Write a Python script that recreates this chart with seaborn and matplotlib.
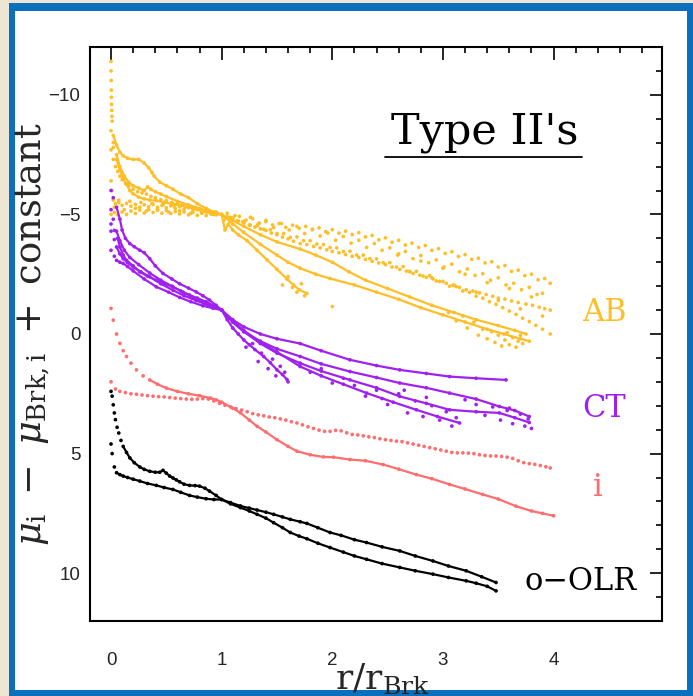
import matplotlib
matplotlib.use("Agg")
import matplotlib.pyplot as plt
import pandas as pd
import seaborn as sns
from matplotlib.patches import Rectangle
from matplotlib.lines import Line2D
from matplotlib.ticker import MultipleLocator, FixedLocator

# ---------------- data ----------------
groups = ["AB", "CT", "i", "o-OLR"]
xticks = [0, 1, 2, 3, 4]
xtick_labels = ["0", "1", "2", "3", "4"]
yticks = [-10, -5, 0, 5, 10]
ytick_labels = ["\u221210", "\u22125", "0", "5", "10"]

# AB (orange) dense profiles
ab1_x = [0.0, 0.0, 0.002, 0.003, 0.004, 0.005, 0.006, 0.008, 0.01, 0.02, 0.05, 0.08, 0.11, 0.15, 0.2, 0.25,
         0.3, 0.34, 0.37, 0.39, 0.44, 0.5, 0.56, 0.63, 0.7, 0.78, 0.86, 0.93, 1.0, 1.1, 1.2, 1.35, 1.5,
         1.71, 1.85, 2.0, 2.15, 2.3, 2.5, 2.7, 2.9, 3.1, 3.3, 3.5, 3.65, 3.75]
ab1_y = [-11.4, -11.0, -10.6, -10.2, -9.9, -9.6, -9.35, -9.1, -8.9, -8.3, -7.9, -7.6, -7.45, -7.35, -7.3, -7.3,
         -7.15, -6.95, -6.75, -6.6, -6.35, -6.2, -6.05, -5.85, -5.7, -5.45, -5.25, -5.1, -5.0, -4.75, -4.5, -4.15, -3.85,
         -3.55, -3.3, -3.0, -2.6, -2.25, -1.9, -1.55, -1.2, -0.9, -0.6, -0.35, -0.15, 0.0]
ab2_x = [0.0, 0.02, 0.05, 0.08, 0.12, 0.16, 0.2, 0.25, 0.3, 0.33, 0.36, 0.4, 0.45, 0.5, 0.6, 0.7, 0.8, 0.9,
         1.0, 1.03, 1.06, 1.1, 1.15, 1.23, 1.32, 1.41, 1.5, 1.59, 1.65, 1.7, 1.77]
ab2_y = [-8.5, -8.0, -7.5, -7.0, -6.6, -6.35, -6.2, -6.1, -6.0, -6.15, -6.05, -5.95, -5.85, -5.75, -5.55, -5.4, -5.25, -5.1,
         -5.0, -4.35, -4.6, -4.35, -4.15, -3.9, -3.5, -3.1, -2.7, -2.3, -2.05, -1.85, -1.7]
ab3_x = [0.02, 0.05, 0.08, 0.11, 0.14, 0.17, 0.2, 0.25, 0.3, 0.35, 0.41, 0.48, 0.56, 0.63, 0.71, 0.78, 0.86, 0.93,
         1.0, 1.1, 1.2, 1.35, 1.5, 1.6, 1.71, 1.85, 1.98, 2.2, 2.4, 2.6, 2.8, 3.0, 3.2, 3.4, 3.55, 3.7, 3.78]
ab3_y = [-7.8, -7.3, -6.85, -6.5, -6.25, -6.0, -5.86, -5.72, -5.65, -5.6, -5.58, -5.5, -5.44, -5.37, -5.3, -5.2, -5.1, -5.0,
         -5.0, -4.6, -4.25, -3.75, -3.3, -3.0, -2.75, -2.5, -2.32, -2.05, -1.75, -1.45, -1.1, -0.8, -0.5, -0.2, 0.0, 0.2, 0.3]
# AB sparse (dotted) profiles
abd1_x = [0.0, 0.02, 0.04, 0.06, 0.08, 0.1, 0.13, 0.16, 0.2, 0.24, 0.28, 0.32, 0.36, 0.4, 0.45, 0.5, 0.55, 0.6, 0.65,
          0.7, 0.75, 0.8, 0.85, 0.9, 0.95, 1.05, 1.1, 1.15, 1.2, 1.25, 1.3, 1.35, 1.4, 1.45, 1.5, 1.55, 1.6, 1.65, 1.71,
          1.77, 1.83, 1.89, 1.95, 2.0, 2.06, 2.12, 2.18, 2.24, 2.3, 2.36, 2.42, 2.48, 2.54, 2.61, 2.67, 2.73, 2.79,
          2.85, 2.91, 2.97, 3.03, 3.09, 3.15, 3.21, 3.27, 3.33, 3.39, 3.45, 3.5, 3.56, 3.62, 3.68, 3.75, 3.81, 3.87,
          3.92, 3.97]
abd1_y = [-7.7, -7.3, -7.0, -6.8, -6.6, -6.45, -6.3, -6.2, -6.05, -5.95, -5.9, -5.85, -5.75, -5.7, -5.62, -5.58, -5.5,
          -5.45, -5.4, -5.3, -5.25, -5.2, -5.15, -5.1, -5.05, -4.9, -4.82, -4.72, -4.64, -4.56, -4.47, -4.4, -4.33, -4.22,
          -4.15, -4.05, -3.98, -3.88, -3.78, -3.74, -3.66, -3.6, -3.52, -3.45, -3.4, -3.32, -3.25, -3.2, -3.12, -3.04,
          -2.97, -2.9, -2.8, -2.7, -2.63, -2.53, -2.46, -2.37, -2.3, -2.2, -2.12, -2.03, -1.95, -1.85, -1.8, -1.72,
          -1.65, -1.58, -1.5, -1.46, -1.38, -1.32, -1.25, -1.2, -1.12, -1.06, -1.0]
abd2_x = [0.0, 0.01, 0.02, 0.04, 0.07, 0.1, 0.14, 0.18, 0.22, 0.26, 0.3, 0.34, 0.38, 0.42, 0.46, 0.5, 0.54, 0.58,
          0.62, 0.66, 0.7, 0.74, 0.78, 0.82, 0.86, 0.9, 0.95, 1.05, 1.1, 1.16, 1.22, 1.28, 1.34, 1.4, 1.46, 1.52,
          1.58, 1.64, 1.7, 1.76, 1.82, 1.88, 1.94, 2.0, 2.06, 2.12, 2.18, 2.24, 2.3, 2.36, 2.42, 2.48, 2.54, 2.6,
          2.66, 2.72, 2.78, 2.84, 2.9, 2.96, 3.02, 3.08, 3.14, 3.2, 3.26, 3.32, 3.38, 3.44, 3.5, 3.56, 3.62, 3.68,
          3.74, 3.8, 3.86, 3.92, 3.97]
abd2_y = [-6.4, -6.0, -5.6, -5.45, -5.5, -5.38, -5.46, -5.34, -5.42, -5.3, -5.4, -5.32, -5.42, -5.3, -5.38, -5.28,
          -5.36, -5.25, -5.32, -5.2, -5.28, -5.18, -5.24, -5.12, -5.18, -5.08, -5.1, -5.05, -4.85, -4.92, -4.76, -4.82,
          -4.64, -4.7, -4.56, -4.62, -4.46, -4.55, -4.42, -4.5, -4.36, -4.44, -4.28, -4.36, -4.22, -4.3, -4.16, -4.24,
          -4.06, -4.12, -3.94, -4.02, -3.84, -3.92, -3.72, -3.8, -3.62, -3.7, -3.5, -3.57, -3.37, -3.44, -3.24, -3.32,
          -3.12, -3.17, -2.97, -3.02, -2.8, -2.86, -2.62, -2.67, -2.44, -2.5, -2.27, -2.32, -2.12]
abd3_x = [0.0, 0.03, 0.06, 0.1, 0.14, 0.18, 0.22, 0.26, 0.3, 0.34, 0.38, 0.42, 0.46, 0.5, 0.54, 0.58, 0.62, 0.66,
          0.7, 0.74, 0.78, 0.82, 0.86, 0.9, 0.95, 1.08, 1.14, 1.2, 1.26, 1.32, 1.38, 1.44, 1.5, 1.56, 1.62, 1.68, 1.74,
          1.8, 1.86, 1.92, 1.98, 2.04, 2.1, 2.16, 2.22, 2.28, 2.34, 2.4, 2.46, 2.52, 2.58, 2.64, 2.7, 2.76, 2.82, 2.88,
          2.94, 3.0, 3.06, 3.12, 3.18, 3.24, 3.3, 3.36, 3.42, 3.48, 3.54, 3.6, 3.66, 3.72, 3.78, 3.84, 3.9, 3.97]
abd3_y = [-5.0, -5.08, -4.98, -5.1, -5.0, -5.14, -5.04, -5.18, -5.06, -5.2, -5.08, -5.18, -5.05, -5.16, -5.04, -5.12,
          -5.02, -5.1, -4.98, -5.08, -4.96, -5.05, -4.95, -5.02, -4.98, -4.88, -4.74, -4.7, -4.55, -4.52, -4.38, -4.36,
          -4.2, -4.2, -4.04, -4.06, -3.9, -3.9, -3.76, -3.74, -3.62, -3.6, -3.45, -3.46, -3.3, -3.3, -3.15, -3.14, -2.98,
          -2.98, -2.8, -2.82, -2.62, -2.62, -2.42, -2.44, -2.22, -2.2, -2.0, -1.98, -1.8, -1.74, -1.58, -1.5, -1.35, -1.24,
          -1.1, -0.96, -0.82, -0.66, -0.52, -0.36, -0.2, 0.0]
abd4_x = [0.03, 0.07, 0.12, 0.17, 0.22, 0.27, 0.32, 0.37, 0.42, 0.47, 0.52, 0.57, 0.62, 0.67, 0.72, 0.77, 0.82, 0.87,
          0.92, 1.12, 1.19, 1.26, 1.33, 1.4, 1.47, 1.54, 1.61, 1.68, 1.75, 1.82, 1.89, 1.96, 2.03, 2.1, 2.17, 2.24,
          2.31, 2.38, 2.45, 2.52, 2.59, 2.66, 2.73, 2.8, 2.87, 2.94, 3.01, 3.08, 3.15, 3.22, 3.29, 3.36, 3.43, 3.5,
          3.57, 3.64, 3.71, 3.78, 3.85, 3.9]
abd4_y = [-5.3, -5.6, -5.2, -5.55, -5.25, -5.5, -5.15, -5.45, -5.2, -5.4, -5.1, -5.35, -5.15, -5.3, -5.05, -5.25,
          -5.05, -5.2, -5.0, -4.95, -4.7, -4.88, -4.6, -4.75, -4.45, -4.62, -4.35, -4.5, -4.2, -4.38, -4.1, -4.22, -3.92,
          -4.08, -3.8, -3.92, -3.62, -3.78, -3.5, -3.6, -3.3, -3.45, -3.15, -3.28, -2.98, -3.1, -2.8, -2.92, -2.6, -2.72,
          -2.45, -2.52, -2.25, -2.35, -2.05, -2.12, -1.85, -1.95, -1.65, -1.7]
ab_spread_x = [3.05, 3.12, 3.18, 3.22, 3.28, 3.32, 3.36, 3.4, 3.44, 3.47, 3.5, 3.53, 3.56, 3.58, 3.6, 3.63, 3.66,
               3.68, 3.7, 3.72, 1.55, 1.6, 1.64, 1.68, 1.72, 1.75, 2.0, 1.02, 2.6, 2.7, 2.8, 2.9, 3.0, 3.1, 3.2,
               3.3, 3.4, 3.5, 3.6, 3.7, 3.8, 3.9]
ab_spread_y = [-0.9, -0.55, -0.75, -0.25, -0.5, 0.05, -0.2, 0.2, -0.1, 0.35, 0.05, 0.5, 0.25, -0.05, 0.45, 0.15, 0.55,
               0.3, 0.05, 0.4, -2.05, -2.4, -1.95, -1.75, -2.1, -1.6, -1.15, -4.75, -3.35, -2.6, -3.05, -2.35, -2.75,
               -2.05, -2.5, -1.75, -2.15, -1.4, -1.9, -1.05, -1.55, -0.75]

# CT (purple)
ct1_x = [0.0, 0.02, 0.05, 0.08, 0.1, 0.13, 0.17, 0.21, 0.26, 0.3, 0.35, 0.4, 0.47, 0.55, 0.62, 0.7, 0.77, 0.83,
         0.89, 0.95, 1.0, 1.1, 1.2, 1.35, 1.5, 1.71, 1.9, 2.16, 2.4, 2.61, 2.85, 3.06, 3.3, 3.57]
ct1_y = [-6.0, -5.7, -5.3, -4.8, -4.35, -4.0, -3.78, -3.65, -3.5, -3.4, -3.15, -2.85, -2.53, -2.3, -2.1, -1.92, -1.76,
         -1.6, -1.42, -1.2, -1.0, -0.6, -0.3, 0.0, 0.2, 0.4, 0.7, 1.08, 1.32, 1.5, 1.65, 1.78, 1.85, 1.92]
ct2_x = [0.0, 0.03, 0.06, 0.08, 0.11, 0.14, 0.2, 0.26, 0.33, 0.41, 0.48, 0.56, 0.63, 0.71, 0.78, 0.86, 0.93, 1.0,
         1.1, 1.2, 1.35, 1.5, 1.71, 1.9, 2.16, 2.4, 2.61, 2.85, 3.06, 3.3, 3.51, 3.65, 3.78]
ct2_y = [-4.6, -4.33, -4.0, -3.64, -3.3, -3.08, -2.85, -2.6, -2.42, -2.25, -2.1, -1.97, -1.8, -1.63, -1.5, -1.35, -1.18,
         -1.0, -0.5, -0.1, 0.3, 0.62, 0.94, 1.25, 1.57, 1.82, 2.05, 2.25, 2.47, 2.72, 3.03, 3.2, 3.45]
ct3_x = [0.0, 0.03, 0.05, 0.08, 0.11, 0.15, 0.2, 0.27, 0.35, 0.45, 0.56, 0.66, 0.77, 0.88, 1.0, 1.1, 1.2, 1.35,
         1.5, 1.71, 1.9, 2.16, 2.4, 2.61, 2.85, 3.06, 3.3, 3.51, 3.65, 3.78]
ct3_y = [-4.3, -3.95, -3.64, -3.35, -3.15, -2.98, -2.8, -2.6, -2.39, -2.1, -1.83, -1.6, -1.4, -1.2, -1.0, -0.5, -0.1,
         0.4, 0.8, 1.22, 1.55, 1.92, 2.25, 2.61, 2.9, 3.17, 3.25, 3.3, 3.5, 3.7]
ct4_x = [0.0, 0.03, 0.05, 0.08, 0.11, 0.15, 0.2, 0.3, 0.41, 0.52, 0.62, 0.72, 0.83, 0.92, 1.0, 1.1, 1.2, 1.35,
         1.5, 1.71, 1.9, 2.1, 2.31, 2.55, 2.76, 2.95, 3.15]
ct4_y = [-3.5, -3.25, -3.08, -3.0, -2.95, -2.82, -2.64, -2.3, -1.97, -1.75, -1.53, -1.35, -1.18, -1.08, -1.0, -0.55,
         -0.15, 0.35, 0.75, 1.36, 1.75, 2.1, 2.47, 2.85, 3.17, 3.45, 3.72]
ct5_x = [0.0, 0.02, 0.05, 0.08, 0.12, 0.17, 0.25, 0.35, 0.45, 0.55, 0.65, 0.75, 0.85, 0.93, 1.0, 1.05, 1.1, 1.15,
         1.2, 1.25, 1.3, 1.38, 1.44, 1.5, 1.55, 1.59]
ct5_y = [-5.2, -4.8, -4.3, -3.9, -3.5, -3.2, -2.9, -2.55, -2.25, -2.0, -1.75, -1.5, -1.3, -1.15, -1.0, -0.6, -0.25, 0.0,
         0.25, 0.45, 0.65, 0.94, 1.2, 1.5, 1.7, 1.9]
ct_spread_x = [1.22, 1.28, 1.33, 1.36, 1.42, 1.46, 1.49, 1.53, 1.57, 1.6, 2.5, 2.6, 2.68, 2.75, 2.82, 2.9, 2.97, 3.03,
               3.08, 3.12, 3.3, 3.38, 3.45, 3.52, 3.58, 3.63, 3.7, 3.74, 3.77, 3.8, 2.2, 2.3, 2.4, 1.8, 1.9, 2.0,
               2.1, 2.45, 2.65, 2.85, 3.2, 3.6]
ct_spread_y = [0.55, 0.4, 1.15, 0.8, 1.45, 1.05, 1.75, 1.35, 1.6, 2.0, 2.95, 2.5, 3.3, 2.8, 3.45, 3.0, 3.6, 3.25, 3.85,
               3.5, 2.95, 3.4, 3.05, 3.6, 3.2, 3.75, 3.35, 3.85, 3.55, 3.95, 2.15, 2.6, 2.35, 1.6, 1.45, 2.05, 1.85,
               2.7, 2.35, 2.65, 2.75, 3.1]

# i (salmon)
i1_x = [0.0, 0.02, 0.05, 0.08, 0.11, 0.14, 0.18, 0.23, 0.29, 0.35, 0.42, 0.5, 0.6, 0.7, 0.8, 0.9, 0.95, 1.0, 1.1,
        1.17, 1.25, 1.32, 1.4, 1.5, 1.6, 1.68, 1.8, 1.92, 2.01, 2.16, 2.3, 2.46, 2.6, 2.76, 2.9, 3.06, 3.2, 3.36,
        3.5, 3.66, 3.8, 3.9, 4.0]
i1_y = [-1.07, -0.58, 0.0, 0.39, 0.7, 0.94, 1.22, 1.5, 1.75, 1.92, 2.1, 2.26, 2.4, 2.5, 2.58, 2.68, 2.75, 2.85, 3.1,
        3.3, 3.6, 3.86, 4.1, 4.42, 4.7, 4.9, 5.05, 5.14, 5.15, 5.25, 5.3, 5.46, 5.65, 5.88, 6.05, 6.29, 6.48, 6.71,
        6.9, 7.2, 7.4, 7.5, 7.6]
i2_x = [0.0, 0.04, 0.08, 0.13, 0.18, 0.23, 0.28, 0.33, 0.38, 0.43, 0.48, 0.53, 0.58, 0.63, 0.68, 0.73, 0.78, 0.83,
        0.88, 0.93, 0.98, 1.03, 1.08, 1.13, 1.18, 1.23, 1.28, 1.33, 1.38, 1.43, 1.48, 1.53, 1.58, 1.63, 1.68, 1.73,
        1.78, 1.83, 1.88, 1.93, 1.98, 2.03, 2.08, 2.13, 2.18, 2.23, 2.28, 2.33, 2.38, 2.43, 2.48, 2.53, 2.58, 2.63,
        2.68, 2.73, 2.78, 2.83, 2.88, 2.93, 2.98, 3.03, 3.08, 3.13, 3.18, 3.23, 3.28, 3.33, 3.38, 3.43, 3.48, 3.53,
        3.58, 3.63, 3.68, 3.73, 3.78, 3.83, 3.88, 3.93, 3.97]
i2_y = [2.0, 2.3, 2.4, 2.45, 2.5, 2.52, 2.55, 2.58, 2.6, 2.62, 2.63, 2.66, 2.68, 2.7, 2.72, 2.73, 2.72, 2.7, 2.72,
        2.8, 2.9, 2.98, 3.05, 3.12, 3.18, 3.25, 3.33, 3.38, 3.42, 3.47, 3.5, 3.55, 3.6, 3.67, 3.72, 3.8, 3.88, 3.95,
        4.02, 4.07, 4.07, 4.03, 4.05, 4.13, 4.2, 4.22, 4.26, 4.3, 4.33, 4.38, 4.42, 4.45, 4.48, 4.5, 4.55, 4.6, 4.65,
        4.7, 4.75, 4.8, 4.85, 4.9, 4.95, 4.97, 4.97, 4.98, 5.0, 5.05, 5.08, 5.1, 5.1, 5.12, 5.15, 5.2, 5.3, 5.38,
        5.42, 5.45, 5.5, 5.55, 5.6]

# o-OLR (black)
o1_x = [0.0, 0.01, 0.02, 0.03, 0.04, 0.055, 0.07, 0.09, 0.11, 0.14, 0.17, 0.21, 0.26, 0.3, 0.35, 0.4, 0.44, 0.47,
        0.5, 0.53, 0.56, 0.59, 0.62, 0.66, 0.71, 0.76, 0.8, 0.85, 0.89, 0.95, 1.0, 1.08, 1.17, 1.25, 1.32, 1.4, 1.47,
        1.55, 1.62, 1.7, 1.77, 1.87, 1.98, 2.1, 2.2, 2.31, 2.45, 2.61, 2.75, 2.91, 3.05, 3.21, 3.3, 3.4, 3.48]
o1_y = [2.4, 2.6, 2.96, 3.3, 3.58, 3.9, 4.14, 4.45, 4.7, 4.95, 5.18, 5.38, 5.56, 5.66, 5.74, 5.78, 5.78, 5.7, 5.82,
        5.94, 6.02, 6.1, 6.18, 6.28, 6.33, 6.34, 6.36, 6.45, 6.57, 6.75, 6.92, 7.1, 7.26, 7.4, 7.54, 7.7, 7.89, 8.1,
        8.3, 8.45, 8.56, 8.75, 8.93, 9.12, 9.28, 9.42, 9.6, 9.76, 9.9, 10.04, 10.18, 10.32, 10.42, 10.55, 10.74]
o2_x = [0.0, 0.01, 0.03, 0.05, 0.08, 0.11, 0.15, 0.2, 0.26, 0.33, 0.41, 0.48, 0.56, 0.63, 0.71, 0.78, 0.86, 0.93,
        1.0, 1.08, 1.17, 1.25, 1.32, 1.4, 1.47, 1.55, 1.62, 1.71, 1.77, 1.87, 1.98, 2.08, 2.2, 2.31, 2.45, 2.61,
        2.75, 2.91, 3.05, 3.21, 3.35, 3.48]
o2_y = [4.6, 5.0, 5.56, 5.8, 5.88, 5.94, 6.0, 6.07, 6.15, 6.25, 6.33, 6.42, 6.5, 6.62, 6.75, 6.82, 6.89, 6.92, 6.92,
        7.05, 7.19, 7.28, 7.36, 7.45, 7.54, 7.65, 7.75, 7.85, 7.92, 8.1, 8.3, 8.42, 8.6, 8.72, 8.9, 9.07, 9.28, 9.49,
        9.7, 9.9, 10.15, 10.39]

# ---------------- styles ----------------
colors = {"AB": "#FFBE26", "CT": "#A020F0", "i": "#FF6E6E", "o-OLR": "#000000"}
# (group, name, x, y, draw connecting line from this x onward or None)
profiles = [
    ("AB", "ab1", ab1_x, ab1_y, 0.015), ("AB", "ab2", ab2_x, ab2_y, 0.04), ("AB", "ab3", ab3_x, ab3_y, 0.04),
    ("AB", "abd1", abd1_x, abd1_y, None), ("AB", "abd2", abd2_x, abd2_y, None), ("AB", "abd3", abd3_x, abd3_y, None),
    ("AB", "abd4", abd4_x, abd4_y, None), ("AB", "abs", ab_spread_x, ab_spread_y, None),
    ("CT", "ct1", ct1_x, ct1_y, 0.04), ("CT", "ct2", ct2_x, ct2_y, 0.04), ("CT", "ct3", ct3_x, ct3_y, 0.04),
    ("CT", "ct4", ct4_x, ct4_y, 0.04), ("CT", "ct5", ct5_x, ct5_y, 0.04), ("CT", "cts", ct_spread_x, ct_spread_y, None),
    ("i", "i1", i1_x, i1_y, 0.3), ("i", "i2", i2_x, i2_y, None),
    ("o-OLR", "o1", o1_x, o1_y, 0.1), ("o-OLR", "o2", o2_x, o2_y, 0.04),
]

rows = []
for g, name, xs, ys, lf in profiles:
    for xv, yv in zip(xs, ys):
        rows.append({"group": g, "profile": name, "r": xv, "mu": yv,
                     "line": (lf is not None and xv >= lf)})
df = pd.DataFrame(rows)

sns.set_theme(style="white")
plt.rcParams["font.family"] = ["DejaVu Serif"]
plt.rcParams["mathtext.fontset"] = "dejavuserif"

W, H = 693, 696
fig = plt.figure(figsize=(W / 100, H / 100), dpi=100)
fig.patch.set_facecolor("#EEE6D2")
fig.patches.append(Rectangle((9 / W, 0), 1, 1 - 3 / H, transform=fig.transFigure,
                             facecolor="#0A70BE", edgecolor="none", zorder=-3))
fig.patches.append(Rectangle((15 / W, 6 / H), (687 - 15) / W, (690 - 11) / H, transform=fig.transFigure,
                             facecolor="white", edgecolor="none", zorder=-2))

ax = fig.add_axes([90 / W, (H - 621) / H, 572 / W, 574 / H])
ax.set_facecolor("none")

lines_df = df[df["line"]]
sns.lineplot(data=lines_df, x="r", y="mu", hue="group", units="profile", estimator=None, sort=False,
             palette=colors, lw=1.6, legend=False, ax=ax)
sns.scatterplot(data=df, x="r", y="mu", hue="group", palette=colors, s=7, linewidth=0,
                legend=False, ax=ax)

ax.set_xlim(-0.19, 4.98)
ax.set_ylim(12, -12)

ax.xaxis.set_major_locator(FixedLocator(xticks))
ax.yaxis.set_major_locator(FixedLocator(yticks))
ax.set_xticklabels(xtick_labels, fontfamily="Liberation Sans", fontsize=13.5)
ax.set_yticklabels(ytick_labels, fontfamily="Liberation Sans", fontsize=13.5)
ax.xaxis.set_minor_locator(MultipleLocator(0.2))
ax.yaxis.set_minor_locator(MultipleLocator(1))
ax.tick_params(which="both", direction="in", top=True, right=True, color="black", width=1.2)
ax.tick_params(which="major", length=9)
ax.tick_params(which="minor", length=4.5)
ax.tick_params(axis="x", which="major", pad=22)
ax.tick_params(axis="y", which="major", pad=7)
for sp in ax.spines.values():
    sp.set_linewidth(1.5)
    sp.set_color("black")

ax.set_xlabel(r"$\mathrm{r/r_{Brk}}$", fontsize=26)
ax.set_ylabel(r"$\mu_{\mathrm{i}}\ -\ \mu_{\mathrm{Brk,i}}\ +\ \mathrm{constant}$", fontsize=26.5)
ax.xaxis.set_label_coords(0.512, -0.071)
ax.yaxis.set_label_coords(-0.066, 0.5)

ax.text(0.69, 0.852, "Type II's", transform=ax.transAxes, ha="center", va="center", fontsize=31, color="black")
ax.add_line(Line2D([0.516, 0.860], [0.808, 0.808], transform=ax.transAxes, color="black", lw=1.3))
label_pos = {"AB": (0.899, 0.537), "CT": (0.899, 0.371), "i": (0.888, 0.232), "o-OLR": (0.858, 0.069)}
label_text = {"AB": "AB", "CT": "CT", "i": "i", "o-OLR": "o\u2212OLR"}
for g in groups:
    ax.text(*label_pos[g], label_text[g], transform=ax.transAxes, ha="center", va="center",
            fontsize=22, color=colors[g])

fig.savefig("out.png", dpi=100, facecolor=fig.get_facecolor())
